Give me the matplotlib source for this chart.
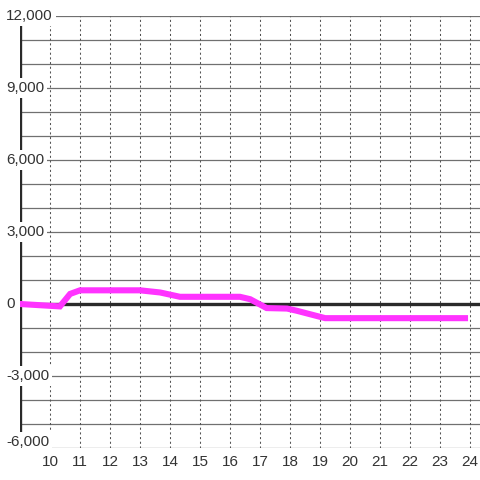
import matplotlib
matplotlib.use('Agg')
import matplotlib.pyplot as plt
import matplotlib.transforms as mtransforms

plt.rcParams['font.family'] = ['Liberation Sans', 'DejaVu Sans']

# data (hour of day, value)
hours = [9.0, 10.33, 10.67, 11.0, 13.0, 13.67, 14.33, 16.33, 16.67, 17.22, 17.9, 18.22, 19.17, 23.83]
values = [0, -100, 420, 570, 570, 480, 300, 300, 200, -170, -190, -280, -590, -590]

x_ticks = list(range(10, 25))
y_grid = list(range(-6000, 12001, 1000))
y_labels = [-6000, -3000, 0, 3000, 6000, 9000, 12000]

line_color = '#ff33ff'
text_color = '#333333'

fig = plt.figure(figsize=(4.8, 4.8), dpi=100)
ax = fig.add_axes([20 / 480, 32 / 480, 460 / 480, 432 / 480])
ax.set_xlim(9.0, 24.33)
ax.set_ylim(-6000, 12000)

for s in ax.spines.values():
    s.set_visible(False)

# grid
for g in y_grid:
    ax.axhline(g, color='#707070', lw=0.9, zorder=1)
for t in x_ticks:
    ax.axvline(t, color='#555555', lw=0.75, linestyle=(0, (2, 2.5)), zorder=1)

# zero line and left axis
ax.axhline(0, color='#2a2a2a', lw=2.4, zorder=2)
ax.axvline(9.0, color='#2a2a2a', lw=2.4, zorder=2)

ax.plot(hours, values, color=line_color, lw=4.4, zorder=5, solid_joinstyle='miter')

ax.set_xticks(x_ticks)
ax.set_xticklabels([str(t) for t in x_ticks], fontsize=11, color=text_color)
ax.tick_params(axis='x', length=0, pad=5)
ax.set_yticks([])

trans = mtransforms.blended_transform_factory(fig.transFigure, ax.transData)
for v in y_labels:
    tr = trans
    if v == y_labels[0]:
        # bottom label sits a little above its line
        tr = trans + mtransforms.ScaledTranslation(0, 6 / 100, fig.dpi_scale_trans)
    ax.text(6 / 480, v, '{:,}'.format(v), transform=tr, ha='left', va='center',
            fontsize=11, color=text_color, zorder=6, clip_on=False,
            bbox=dict(facecolor='white', edgecolor='none', pad=2.2))

fig.savefig('out.png', dpi=100)
